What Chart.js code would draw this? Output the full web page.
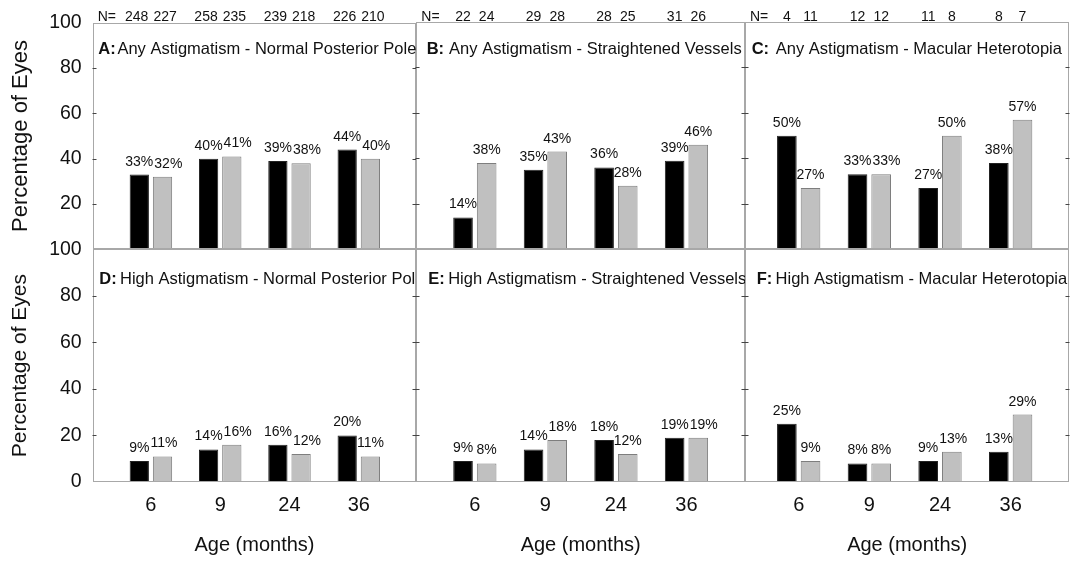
<!DOCTYPE html>
<html>
<head>
<meta charset="utf-8">
<script src="https://cdn.jsdelivr.net/npm/chart.js@4/dist/chart.umd.min.js"></script>
<style>
  html, body { margin: 0; padding: 0; background: #fff; }
  #wrap { position: relative; width: 1074px; height: 564px; background: #fff; overflow: hidden; }
  #wrap canvas { position: absolute; left: 0; top: 0; }
</style>
</head>
<body>
<div id="wrap"></div>
<script>
// ---- data ----
const ageLabels = ['6', '9', '24', '36'];
const yTickValues = [20, 40, 60, 80];

// Any astigmatism (top row): percentages and eye counts per age group
const anyNormalDark = [33, 40, 39, 44];
const anyNormalLight = [32, 41, 38, 40];
const anyNormalNDark = [248, 258, 239, 226];
const anyNormalNLight = [227, 235, 218, 210];

const anyStraightDark = [14, 35, 36, 39];
const anyStraightLight = [38, 43, 28, 46];
const anyStraightNDark = [22, 29, 28, 31];
const anyStraightNLight = [24, 28, 25, 26];

const anyMacularDark = [50, 33, 27, 38];
const anyMacularLight = [27, 33, 50, 57];
const anyMacularNDark = [4, 12, 11, 8];
const anyMacularNLight = [11, 12, 8, 7];

// High astigmatism (bottom row)
const highNormalDark = [9, 14, 16, 20];
const highNormalLight = [11, 16, 12, 11];

const highStraightDark = [9, 14, 18, 19];
const highStraightLight = [8, 18, 12, 19];

const highMacularDark = [25, 8, 9, 13];
const highMacularLight = [9, 8, 13, 29];

const panelLetters = ['A:', 'B:', 'C:', 'D:', 'E:', 'F:'];
const panelTitles = [
  'Any Astigmatism - Normal Posterior Pole',
  'Any Astigmatism - Straightened Vessels',
  'Any Astigmatism - Macular Heterotopia',
  'High Astigmatism - Normal Posterior Pole',
  'High Astigmatism - Straightened Vessels',
  'High Astigmatism - Macular Heterotopia'
];

// ---- layout ----
const W = 1074, H = 564;
const colEdges = [92.7, 416.3, 745, 1069.3];
const rowEdges = [22, 249.3, 482];
const xRanges = [[0.16, 4.83], [0.17, 4.83], [0.24, 4.83]];
const titleDx = [[5.6, 10.4, 6.7], [6.6, 12, 11.7]];
const titleGap = [[1.7, 5, 6.7], [3.3, 3.4, 3.3]];
const titleBaseline = [31.5, 35];
const yTitleSize = [22, 21];
const FONT = "'Liberation Sans', Arial, Helvetica, sans-serif";
const TEXT = '#111';

const panels = [
  { row: 0, col: 0, dark: anyNormalDark, light: anyNormalLight, nDark: anyNormalNDark, nLight: anyNormalNLight },
  { row: 0, col: 1, dark: anyStraightDark, light: anyStraightLight, nDark: anyStraightNDark, nLight: anyStraightNLight },
  { row: 0, col: 2, dark: anyMacularDark, light: anyMacularLight, nDark: anyMacularNDark, nLight: anyMacularNLight },
  { row: 1, col: 0, dark: highNormalDark, light: highNormalLight },
  { row: 1, col: 1, dark: highStraightDark, light: highStraightLight },
  { row: 1, col: 2, dark: highMacularDark, light: highMacularLight }
];

// frame, inner ticks, value labels, counts and panel heading
const panelDecor = {
  id: 'panelDecor',
  afterDatasetsDraw(chart, args, opts) {
    const { ctx, chartArea: a } = chart;
    const yScale = chart.scales.y;
    const dsets = chart.data.datasets;
    const darkEls = chart.getDatasetMeta(0).data;
    const lightEls = chart.getDatasetMeta(1).data;
    ctx.save();

    // frame
    ctx.strokeStyle = '#a8a8a8';
    ctx.lineWidth = 1;
    const l = Math.round(a.left) + 0.5, r = Math.round(a.right) - 0.5;
    const t = Math.round(a.top) + 0.5, b = Math.round(a.bottom) - 0.5;
    ctx.strokeRect(l, t, r - l, b - t);

    // small inward ticks on both side borders
    ctx.strokeStyle = '#444';
    yTickValues.forEach(v => {
      const y = Math.round(yScale.getPixelForValue(v)) + 0.5;
      ctx.beginPath();
      ctx.moveTo(l - 1, y); ctx.lineTo(l + 3, y);
      ctx.moveTo(r - 3, y); ctx.lineTo(r + 1, y);
      ctx.stroke();
    });

    ctx.fillStyle = TEXT;
    ctx.font = '14px ' + FONT;
    ctx.textAlign = 'center';
    ctx.textBaseline = 'alphabetic';

    // percentage labels: the light one moves right if it would collide with the dark one
    darkEls.forEach((de, i) => {
      const le = lightEls[i];
      const dt = dsets[0].data[i].y + '%';
      const lt = dsets[1].data[i].y + '%';
      const dy = de.y - 9, ly = le.y - 9;
      const dw = ctx.measureText(dt).width, lw = ctx.measureText(lt).width;
      let lx = le.x;
      if (Math.abs(dy - ly) < 13) {
        const minX = de.x + dw / 2 + 1 + lw / 2;
        if (lx < minX) lx = minX;
      }
      ctx.fillText(dt, de.x, dy);
      ctx.fillText(lt, lx, ly);
    });

    // eye counts along the top, spread apart when crowded
    if (dsets[0].counts) {
      darkEls.forEach((de, i) => {
        const le = lightEls[i];
        const dt = String(dsets[0].counts[i]);
        const lt = String(dsets[1].counts[i]);
        const dw = ctx.measureText(dt).width, lw = ctx.measureText(lt).width;
        const need = dw / 2 + lw / 2 + 5;
        let dx = de.x, lx = le.x;
        const sep = lx - dx;
        if (sep < need) { dx -= (need - sep) / 2; lx += (need - sep) / 2; }
        ctx.fillText(dt, dx, 20.5);
        ctx.fillText(lt, lx, 20.5);
      });
      ctx.textAlign = 'left';
      ctx.fillText('N=', a.left + 5, 20.5);
    }

    // panel heading, clipped to the plot frame
    ctx.beginPath();
    ctx.rect(a.left, a.top, a.right - a.left, a.bottom - a.top);
    ctx.clip();
    ctx.textAlign = 'left';
    let x = a.left + opts.dx;
    const y = a.top + opts.baseline;
    ctx.font = 'bold 16.5px ' + FONT;
    ctx.fillText(opts.letter, x, y);
    x += ctx.measureText(opts.letter).width + opts.gap;
    ctx.font = '16.5px ' + FONT;
    ctx.fillText(opts.title, x, y);
    ctx.restore();
  }
};

const wrap = document.getElementById('wrap');

panels.forEach((p, idx) => {
  const canvas = document.createElement('canvas');
  canvas.width = W; canvas.height = H;
  canvas.style.width = W + 'px'; canvas.style.height = H + 'px';
  wrap.appendChild(canvas);

  const isLeft = p.col === 0;
  const isBottom = p.row === 1;
  const left = colEdges[p.col], right = colEdges[p.col + 1];
  const top = rowEdges[p.row], bottom = rowEdges[p.row + 1];

  const toPoints = arr => arr.map((v, i) => ({ x: i + 1, y: v }));
  const common = { categoryPercentage: 0.67, barPercentage: 0.83, borderWidth: 1, borderSkipped: 'start' };

  new Chart(canvas, {
    type: 'bar',
    data: {
      datasets: [
        Object.assign({ label: 'dark', data: toPoints(p.dark), backgroundColor: '#000', borderColor: '#222', counts: p.nDark }, common),
        Object.assign({ label: 'light', data: toPoints(p.light), backgroundColor: '#c0c0c0', borderColor: '#7e7e7e', counts: p.nLight }, common)
      ]
    },
    options: {
      responsive: false,
      animation: false,
      devicePixelRatio: 1,
      events: [],
      layout: {
        padding: {
          left: isLeft ? 0 : left,
          right: W - right,
          top: top,
          bottom: isBottom ? 0 : H - bottom
        }
      },
      plugins: {
        legend: { display: false },
        tooltip: { enabled: false },
        panelDecor: {
          letter: panelLetters[idx],
          title: panelTitles[idx],
          dx: titleDx[p.row][p.col],
          gap: titleGap[p.row][p.col],
          baseline: titleBaseline[p.row]
        }
      },
      scales: {
        x: {
          type: 'linear',
          offset: false,
          min: xRanges[p.col][0],
          max: xRanges[p.col][1],
          display: isBottom,
          afterBuildTicks: s => { s.ticks = ageLabels.map((_, i) => ({ value: i + 1 })); },
          afterFit: s => { if (isBottom) s.height = H - rowEdges[2]; },
          grid: { display: false, drawTicks: false, offset: false },
          border: { display: false },
          ticks: {
            autoSkip: false,
            maxRotation: 0,
            padding: 11,
            color: TEXT,
            font: { family: FONT, size: 20 },
            callback: (v, i) => ageLabels[i] ?? ''
          },
          title: {
            display: true,
            text: 'Age (months)',
            color: TEXT,
            font: { family: FONT, size: 20 },
            padding: { top: 0, bottom: 7 }
          }
        },
        y: {
          min: 0,
          max: 100,
          display: isLeft,
          afterFit: s => { if (isLeft) s.width = colEdges[0]; },
          grid: { display: false, drawTicks: false },
          border: { display: false },
          ticks: {
            stepSize: 20,
            padding: 11,
            color: TEXT,
            font: { family: FONT, size: 19.5 },
            callback: v => (!isBottom && v === 0) ? '' : v
          },
          title: {
            display: true,
            text: 'Percentage of Eyes',
            color: TEXT,
            font: { family: FONT, size: yTitleSize[p.row] },
            padding: { top: 8, bottom: 0 }
          }
        }
      }
    },
    plugins: [panelDecor]
  });
});
</script>
</body>
</html>
